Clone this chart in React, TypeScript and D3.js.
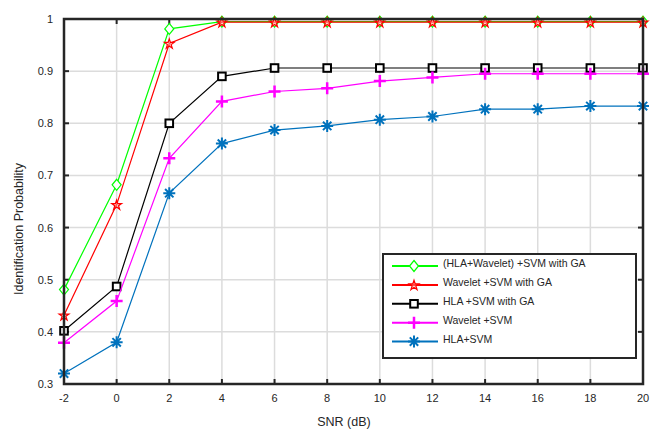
import React, { useEffect, useRef } from 'react';
import * as d3 from 'd3';

const snr = [-2, 0, 2, 4, 6, 8, 10, 12, 14, 16, 18, 20];
const hlaWaveletGA = [0.481, 0.682, 0.981, 0.995, 0.995, 0.995, 0.995, 0.995, 0.995, 0.995, 0.995, 0.995];
const waveletGA = [0.432, 0.644, 0.953, 0.994, 0.994, 0.994, 0.994, 0.994, 0.994, 0.994, 0.994, 0.994];
const hlaGA = [0.402, 0.487, 0.8, 0.89, 0.906, 0.906, 0.906, 0.906, 0.906, 0.906, 0.906, 0.906];
const waveletSVM = [0.379, 0.459, 0.733, 0.842, 0.861, 0.867, 0.881, 0.888, 0.895, 0.895, 0.895, 0.895];
const hlaSVM = [0.32, 0.38, 0.666, 0.761, 0.787, 0.795, 0.807, 0.813, 0.827, 0.827, 0.833, 0.833];
const yTicks = [0.3, 0.4, 0.5, 0.6, 0.7, 0.8, 0.9, 1];

const series = [
  { name: '(HLA+Wavelet) +SVM with GA', values: hlaWaveletGA, color: '#00ff00', marker: 'diamond' },
  { name: 'Wavelet +SVM with GA', values: waveletGA, color: '#ff0000', marker: 'star' },
  { name: 'HLA +SVM with GA', values: hlaGA, color: '#000000', marker: 'square' },
  { name: 'Wavelet +SVM', values: waveletSVM, color: '#ff00ff', marker: 'plus' },
  { name: 'HLA+SVM', values: hlaSVM, color: '#0072bd', marker: 'asterisk' },
];

const W = 660;
const H = 436;
const font = 'Liberation Sans, Arial, sans-serif';

function drawMarker(g: any, kind: string, x: number, y: number, color: string) {
  if (kind === 'diamond') {
    g.append('path')
      .attr('d', `M${x},${y - 5.5}L${x + 4.5},${y}L${x},${y + 5.5}L${x - 4.5},${y}Z`)
      .attr('fill', 'white').attr('stroke', color).attr('stroke-width', 1.2);
  } else if (kind === 'star') {
    g.append('path')
      .attr('d', d3.symbol().type(d3.symbolStar).size(30)() as string)
      .attr('transform', `translate(${x},${y + 0.5})`)
      .attr('fill', '#ffb0a0').attr('fill-opacity', 0.5).attr('stroke', color).attr('stroke-width', 1.2);
  } else if (kind === 'square') {
    g.append('rect')
      .attr('x', x - 3.8).attr('y', y - 3.8).attr('width', 7.6).attr('height', 7.6)
      .attr('fill', 'white').attr('stroke', color).attr('stroke-width', 2);
  } else if (kind === 'plus') {
    g.append('path')
      .attr('d', `M${x - 6},${y}H${x + 6}M${x},${y - 6}V${y + 6}`)
      .attr('stroke', color).attr('stroke-width', 2.5);
  } else {
    const r = 6;
    const d = r * 0.7;
    g.append('path')
      .attr('d', `M${x - r},${y}H${x + r}M${x},${y - r}V${y + r}M${x - d},${y - d}L${x + d},${y + d}M${x - d},${y + d}L${x + d},${y - d}`)
      .attr('stroke', color).attr('stroke-width', 2);
  }
}

export default function App() {
  const ref = useRef<SVGSVGElement>(null);

  useEffect(() => {
    if (!ref.current) return;
    const svg = d3.select(ref.current);
    svg.selectAll('*').remove();

    const left = 64, right = 643, top = 19, bottom = 384;
    const x = d3.scaleLinear().domain([-2, 20]).range([left, right]);
    const y = d3.scaleLinear().domain([0.3, 1]).range([bottom, top]);

    svg.append('rect').attr('width', W).attr('height', H).attr('fill', 'white');

    // grid
    const grid = svg.append('g').attr('stroke', '#dcdcdc').attr('stroke-width', 1.5);
    snr.forEach(v => {
      grid.append('line').attr('x1', x(v)).attr('x2', x(v)).attr('y1', top).attr('y2', bottom);
    });
    yTicks.forEach(v => {
      grid.append('line').attr('x1', left).attr('x2', right).attr('y1', y(v)).attr('y2', y(v));
    });

    // frame ticks
    const ticks = svg.append('g').attr('stroke', '#262626').attr('stroke-width', 2);
    snr.forEach(v => {
      ticks.append('line').attr('x1', x(v)).attr('x2', x(v)).attr('y1', bottom).attr('y2', bottom - 5);
      ticks.append('line').attr('x1', x(v)).attr('x2', x(v)).attr('y1', top).attr('y2', top + 5);
    });
    yTicks.forEach(v => {
      ticks.append('line').attr('x1', left).attr('x2', left + 5).attr('y1', y(v)).attr('y2', y(v));
      ticks.append('line').attr('x1', right).attr('x2', right - 5).attr('y1', y(v)).attr('y2', y(v));
    });

    // series
    const line = d3.line<number>().x((_, i) => x(snr[i])).y(d => y(d));
    series.forEach(s => {
      const g = svg.append('g');
      g.append('path').datum(s.values).attr('d', line)
        .attr('fill', 'none').attr('stroke', s.color).attr('stroke-width', 1.2);
      s.values.forEach((v, i) => drawMarker(g, s.marker, x(snr[i]), y(v), s.color));
    });

    // frame
    svg.append('rect').attr('x', left).attr('y', top).attr('width', right - left).attr('height', bottom - top)
      .attr('fill', 'none').attr('stroke', '#262626').attr('stroke-width', 2.5);

    // tick labels
    const lab = svg.append('g').attr('font-family', font).attr('font-size', 11).attr('fill', '#262626');
    snr.forEach(v => {
      lab.append('text').attr('x', x(v)).attr('y', 402).attr('text-anchor', 'middle').text(String(v));
    });
    yTicks.forEach(v => {
      lab.append('text').attr('x', 53).attr('y', y(v) + 4).attr('text-anchor', 'end').text(String(v));
    });
    lab.append('text').attr('x', 344).attr('y', 426).attr('text-anchor', 'middle').attr('font-size', 12.5).text('SNR (dB)');
    lab.append('text').attr('transform', 'translate(23,229) rotate(-90)').attr('text-anchor', 'middle')
      .attr('font-size', 12.5).text('Identification Probability');

    // legend
    const lg = svg.append('g');
    lg.append('rect').attr('x', 383).attr('y', 254).attr('width', 253).attr('height', 104)
      .attr('fill', 'white').attr('stroke', '#262626').attr('stroke-width', 2);
    series.forEach((s, i) => {
      const ly = 266 + i * 18.9;
      lg.append('line').attr('x1', 392).attr('x2', 438).attr('y1', ly).attr('y2', ly)
        .attr('stroke', s.color).attr('stroke-width', 2);
      drawMarker(lg, s.marker, 414, ly, s.color);
      lg.append('text').attr('x', 443).attr('y', ly).attr('dy', '0.1em').attr('font-family', font)
        .attr('font-size', 10.5).attr('fill', '#262626').text(s.name);
    });
  }, []);

  return (
    <svg ref={ref} width={W} height={H} style={{ position: 'absolute', left: 0, top: 0, display: 'block' }} />
  );
}
